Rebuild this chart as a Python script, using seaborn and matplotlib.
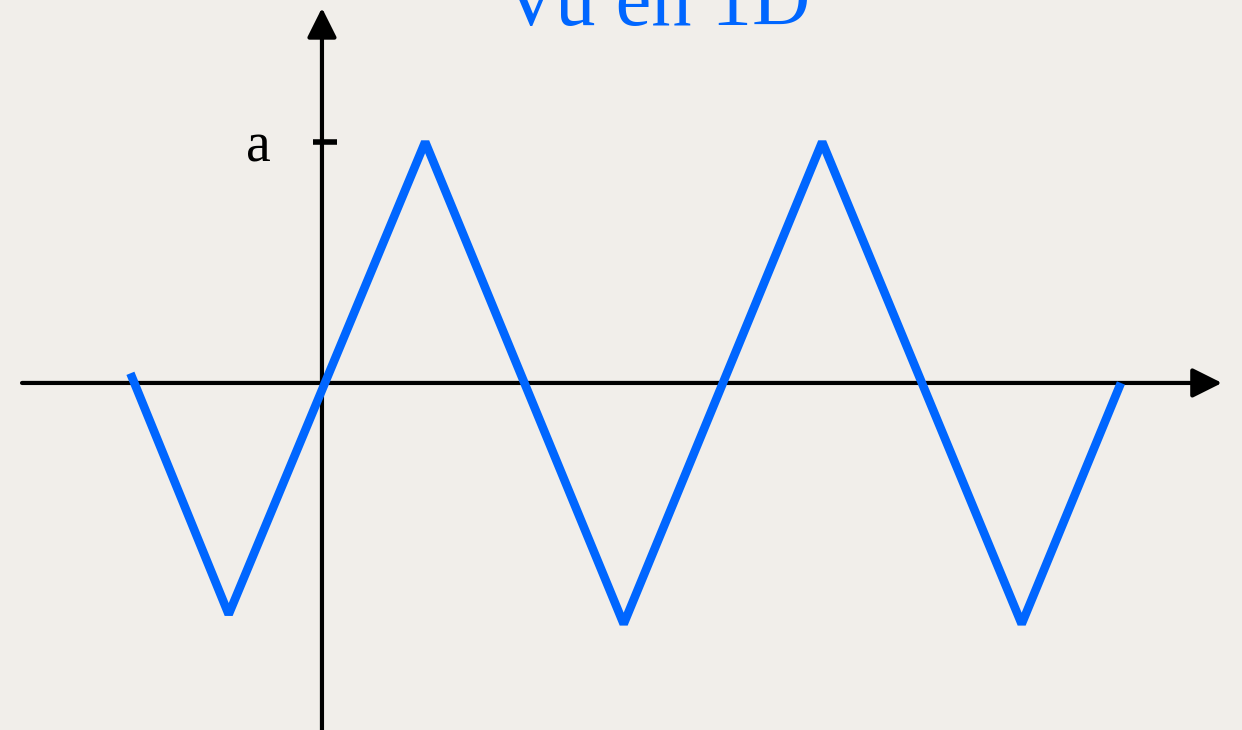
import numpy as np
import pandas as pd
import matplotlib
matplotlib.use("Agg")
import matplotlib.pyplot as plt
import seaborn as sns

# ---- data ----
wave_x = [-1.93, -0.94, 1.04, 3.04, 5.04, 7.05, 8.05]
wave_y = [0.04, -0.96, 1.0, -1.0, 1.0, -1.0, 0.0]
tick_values = [1.0]
tick_labels = ["a"]
title_text = "Vu en 1D"

BG = "#f1eeea"
BLUE = "#0066ff"

sns.set_theme(style="white")
plt.rcParams["font.family"] = ["Liberation Serif", "DejaVu Serif"]

fig = plt.figure(figsize=(12.42, 7.30), dpi=100, facecolor=BG)
ax = fig.add_axes([0, 0, 1, 1])
ax.set_facecolor(BG)

# data range mapped to the full canvas
ax.set_xlim(-3.244, 9.270)
ax.set_ylim(-1.440, 1.589)

# axes with arrows
ax.annotate("", xy=(9.068, 0), xytext=(-3.022, 0),
            arrowprops=dict(arrowstyle="-|>", mutation_scale=45, lw=3,
                            color="black", shrinkA=0, shrinkB=0))
ax.annotate("", xy=(0, 1.556), xytext=(0, -1.5),
            arrowprops=dict(arrowstyle="-|>", mutation_scale=45, lw=3,
                            color="black", shrinkA=0, shrinkB=0))

# tick mark and label
for v, lab in zip(tick_values, tick_labels):
    ax.plot([-0.09, 0.15], [v, v], color="black", lw=4, solid_capstyle="butt")
    ax.text(-0.645, v - 0.025, lab, ha="center", va="center", fontsize=40,
            color="black")

df = pd.DataFrame({"x": wave_x, "y": wave_y})
sns.lineplot(data=df, x="x", y="y", sort=False, color=BLUE, lw=6.2, ax=ax,
             zorder=3)
for ln in ax.get_lines()[-1:]:
    ln.set_solid_capstyle("butt")
    ln.set_solid_joinstyle("bevel")

ax.set_axis_off()

fig.text(656 / 1242, 1 - 25 / 730, title_text, ha="center", va="baseline",
         fontsize=58, color=BLUE)

fig.savefig("out.png", dpi=100, facecolor=BG)
